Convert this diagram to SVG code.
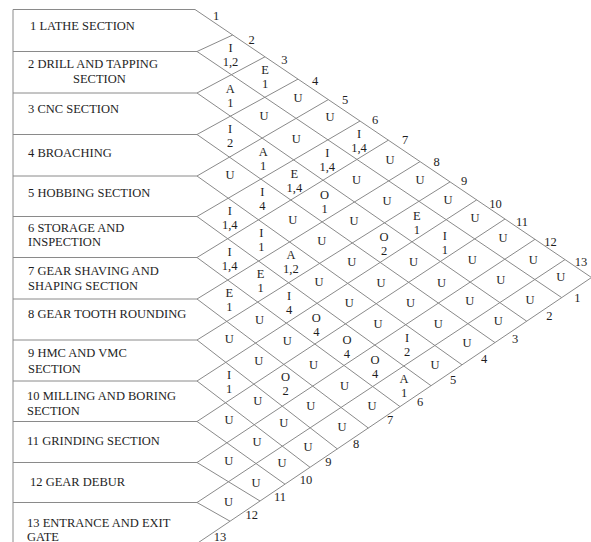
<svg xmlns="http://www.w3.org/2000/svg" width="591" height="542" viewBox="0 0 591 542">
<style>
.ln{stroke:#8a8a8a;stroke-width:1;fill:none}
.lb{font-family:"Liberation Serif","Times New Roman",serif;font-size:12.5px;fill:#1e1e1e}
.c{font-family:"Liberation Serif","Times New Roman",serif;font-size:12.5px;fill:#1e1e1e;text-anchor:middle}
.n{font-family:"Liberation Serif","Times New Roman",serif;font-size:12.5px;fill:#1e1e1e;text-anchor:middle}
</style>
<rect width="591" height="542" fill="#fff"/>
<g id="connectors">
<path class="ln" d="M13 9.5V542M13 9.5H195M13 51.5H197M13 93H197M13 134.5H197M13 176H197M13 216.5H197M13 257.5H197M13 299H197M13 340H197M13 381H197M13 421.5H197M13 462.5H197M13 502.5H197"/>
<path class="ln" d="M195 9.5L591.5 277.5M197 543.5L591.5 277.5"/>
<path class="ln" d="M197 51.5L232.7 35M197 93L265 56.8M197 134.5L298 79.1M197 176L328.3 99.6M197 216.5L360 121M197 257.5L388.3 140.2M197 299L420 161.6M197 340L450 181.9M197 381L476.7 199.9M197 421.5L505 219M197 462.5L535 239.3M197 502.5L565 259.6"/>
<path class="ln" d="M197 51.5L561.7 297.6M197 93L526.7 321.2M197 134.5L495 342.6M197 176L462 364.8M197 216.5L431 385.7M197 257.5L400 406.6M197 299L368.3 428M197 340L337.3 448.9M197 381L310 467.3M197 421.5L285 484.2M197 462.5L260 501M197 502.5L230 521.2"/>
</g>
<g id="dept1"><text class="lb" x="30" y="29.5">1 LATHE SECTION</text></g>
<g id="dept2"><text class="lb" x="28" y="68.3">2 DRILL AND TAPPING</text><text class="lb" x="73" y="83.3">SECTION</text></g>
<g id="dept3"><text class="lb" x="28" y="112.7">3 CNC SECTION</text></g>
<g id="dept4"><text class="lb" x="28" y="156.7">4 BROACHING</text></g>
<g id="dept5"><text class="lb" x="28" y="197.3">5 HOBBING SECTION</text></g>
<g id="dept6"><text class="lb" x="28" y="231.7">6 STORAGE AND</text><text class="lb" x="28" y="246">INSPECTION</text></g>
<g id="dept7"><text class="lb" x="28" y="275">7 GEAR SHAVING AND</text><text class="lb" x="28" y="290">SHAPING SECTION</text></g>
<g id="dept8"><text class="lb" x="28" y="318.3">8 GEAR TOOTH ROUNDING</text></g>
<g id="dept9"><text class="lb" x="28" y="357.3">9 HMC AND VMC</text><text class="lb" x="28" y="372.7">SECTION</text></g>
<g id="dept10"><text class="lb" x="27" y="400">10 MILLING AND BORING</text><text class="lb" x="27" y="415">SECTION</text></g>
<g id="dept11"><text class="lb" x="27" y="445">11 GRINDING SECTION</text></g>
<g id="dept12"><text class="lb" x="30" y="486">12 GEAR DEBUR</text></g>
<g id="dept13"><text class="lb" x="27" y="527">13 ENTRANCE AND EXIT</text><text class="lb" x="27" y="540.5">GATE</text></g>
<g id="top-numbers">
<text class="n" x="216" y="20.3">1</text><text class="n" x="251.7" y="43.6">2</text><text class="n" x="284.3" y="64.3">3</text><text class="n" x="315" y="85">4</text><text class="n" x="345" y="104.3">5</text><text class="n" x="375" y="124.3">6</text><text class="n" x="405" y="144.3">7</text><text class="n" x="436.7" y="166">8</text><text class="n" x="464" y="185.3">9</text><text class="n" x="495.5" y="207.6">10</text><text class="n" x="522" y="226">11</text><text class="n" x="550.5" y="246">12</text><text class="n" x="581" y="266">13</text>
</g>
<g id="bottom-numbers">
<text class="n" x="577.3" y="301.6">1</text><text class="n" x="549.3" y="320.3">2</text><text class="n" x="515" y="342.6">3</text><text class="n" x="484" y="362.8">4</text><text class="n" x="453" y="383.8">5</text><text class="n" x="420" y="406">6</text><text class="n" x="390" y="424.3">7</text><text class="n" x="356" y="447.6">8</text><text class="n" x="328.3" y="466">9</text><text class="n" x="306" y="484.3">10</text><text class="n" x="280" y="501.3">11</text><text class="n" x="251.7" y="519.3">12</text><text class="n" x="220" y="540.5">13</text>
</g>
<g id="relations">
<text class="c" x="230.5" y="51.6">I<tspan x="230.5" y="65.6">1,2</tspan></text>
<text class="c" x="230.3" y="92.5">A<tspan x="230.3" y="106.5">1</tspan></text>
<text class="c" x="230.1" y="133.3">I<tspan x="230.1" y="147.3">2</tspan></text>
<text class="c" x="230" y="179.2">U</text>
<text class="c" x="229.8" y="215">I<tspan x="229.8" y="229">1,4</tspan></text>
<text class="c" x="229.6" y="255.9">I<tspan x="229.6" y="269.9">1,4</tspan></text>
<text class="c" x="229.4" y="296.8">E<tspan x="229.4" y="310.8">1</tspan></text>
<text class="c" x="229.2" y="342.6">U</text>
<text class="c" x="229" y="378.5">I<tspan x="229" y="392.5">1</tspan></text>
<text class="c" x="228.9" y="424.4">U</text>
<text class="c" x="228.7" y="465.2">U</text>
<text class="c" x="228.5" y="506.1">U</text>

<text class="c" x="265" y="73.8">E<tspan x="265" y="87.8">1</tspan></text>
<text class="c" x="264.1" y="119.6">U</text>
<text class="c" x="263.2" y="155.5">A<tspan x="263.2" y="169.5">1</tspan></text>
<text class="c" x="262.3" y="196.3">I<tspan x="262.3" y="210.3">4</tspan></text>
<text class="c" x="261.4" y="237.1">I<tspan x="261.4" y="251.1">1</tspan></text>
<text class="c" x="260.5" y="278">E<tspan x="260.5" y="292">1</tspan></text>
<text class="c" x="259.6" y="323.8">U</text>
<text class="c" x="258.7" y="364.6">U</text>
<text class="c" x="257.8" y="405.4">U</text>
<text class="c" x="256.9" y="446.3">U</text>
<text class="c" x="256" y="487.1">U</text>

<text class="c" x="298" y="102.1">U</text>
<text class="c" x="296.2" y="142.7">U</text>
<text class="c" x="294.4" y="178.2">E<tspan x="294.4" y="192.2">1,4</tspan></text>
<text class="c" x="292.7" y="223.8">U</text>
<text class="c" x="290.9" y="259.3">A<tspan x="290.9" y="273.3">1,2</tspan></text>
<text class="c" x="289.1" y="299.9">I<tspan x="289.1" y="313.9">4</tspan></text>
<text class="c" x="287.3" y="345.4">U</text>
<text class="c" x="285.6" y="381">O<tspan x="285.6" y="395">2</tspan></text>
<text class="c" x="283.8" y="426.5">U</text>
<text class="c" x="282" y="467.1">U</text>

<text class="c" x="330" y="121.1">U</text>
<text class="c" x="327.3" y="157.4">I<tspan x="327.3" y="171.4">1,4</tspan></text>
<text class="c" x="324.5" y="198.6">O<tspan x="324.5" y="212.6">1</tspan></text>
<text class="c" x="321.8" y="244.9">U</text>
<text class="c" x="319" y="286.1">U</text>
<text class="c" x="316.3" y="322.4">O<tspan x="316.3" y="336.4">4</tspan></text>
<text class="c" x="313.5" y="368.6">U</text>
<text class="c" x="310.8" y="409.9">U</text>
<text class="c" x="308" y="451.1">U</text>

<text class="c" x="359" y="137.6">I<tspan x="359" y="151.6">1,4</tspan></text>
<text class="c" x="356.6" y="183.8">U</text>
<text class="c" x="354.1" y="225">U</text>
<text class="c" x="351.7" y="266.2">U</text>
<text class="c" x="349.3" y="307.4">U</text>
<text class="c" x="346.9" y="343.7">O<tspan x="346.9" y="357.7">4</tspan></text>
<text class="c" x="344.4" y="389.9">U</text>
<text class="c" x="342" y="431.1">U</text>

<text class="c" x="390" y="164.1">U</text>
<text class="c" x="387" y="205.1">U</text>
<text class="c" x="384" y="241.1">O<tspan x="384" y="255.1">2</tspan></text>
<text class="c" x="381" y="287.1">U</text>
<text class="c" x="378" y="328.1">U</text>
<text class="c" x="375" y="364.1">O<tspan x="375" y="378.1">4</tspan></text>
<text class="c" x="372" y="410.1">U</text>

<text class="c" x="420" y="184.1">U</text>
<text class="c" x="416.8" y="219.9">E<tspan x="416.8" y="233.9">1</tspan></text>
<text class="c" x="413.6" y="265.7">U</text>
<text class="c" x="410.4" y="306.5">U</text>
<text class="c" x="407.2" y="342.3">I<tspan x="407.2" y="356.3">2</tspan></text>
<text class="c" x="404" y="383.1">A<tspan x="404" y="397.1">1</tspan></text>

<text class="c" x="448" y="204.1">U</text>
<text class="c" x="444.8" y="240.4">I<tspan x="444.8" y="254.4">1</tspan></text>
<text class="c" x="441.5" y="286.6">U</text>
<text class="c" x="438.3" y="327.9">U</text>
<text class="c" x="435" y="369.1">U</text>

<text class="c" x="475" y="222.1">U</text>
<text class="c" x="472.3" y="263.8">U</text>
<text class="c" x="469.7" y="305.4">U</text>
<text class="c" x="467" y="347.1">U</text>

<text class="c" x="503" y="242.4">U</text>
<text class="c" x="500.7" y="283.5">U</text>
<text class="c" x="498.3" y="324.6">U</text>

<text class="c" x="533.3" y="264.1">U</text>
<text class="c" x="530" y="304.1">U</text>

<text class="c" x="560.7" y="280.8">U</text>
</g>
</svg>
